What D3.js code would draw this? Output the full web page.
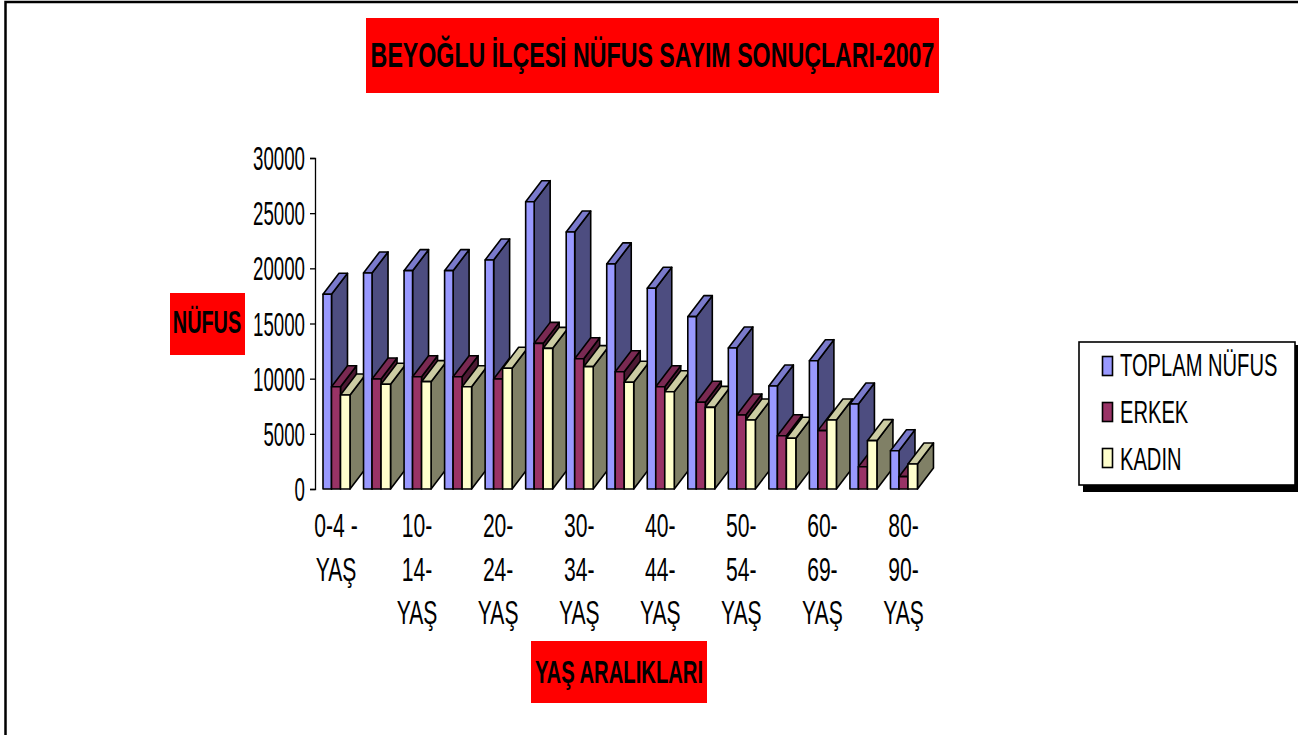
<!DOCTYPE html>
<html><head><meta charset="utf-8">
<script src="https://cdnjs.cloudflare.com/ajax/libs/d3/7.8.5/d3.min.js"></script>
<style>html,body{margin:0;padding:0;background:#fff;overflow:hidden}svg{display:block}text{font-family:"Liberation Sans",Arial,sans-serif;fill:#000}</style>
</head><body><svg id="c" width="1298" height="735"></svg>
<script>
const titleText = "BEYOĞLU İLÇESİ NÜFUS SAYIM SONUÇLARI-2007";
const yAxisTitle = "NÜFUS";
const xAxisTitle = "YAŞ ARALIKLARI";
const categories = ["0-4 - YAŞ","5-9 YAŞ","10- 14- YAŞ","15-19 YAŞ","20- 24- YAŞ","25-29 YAŞ","30- 34- YAŞ","35-39 YAŞ","40- 44- YAŞ","45-49 YAŞ","50- 54- YAŞ","55-59 YAŞ","60- 69- YAŞ","70-79 YAŞ","80- 90- YAŞ"];
const toplam = [17650,19580,19790,19790,20760,26040,23290,20400,18190,15620,12780,9340,11630,7700,3470];
const erkek  = [9270,9970,10180,10180,9970,13200,11810,10630,9270,7860,6710,4830,5290,2020,1120];
const kadin  = [8520,9490,9730,9270,10940,12750,11090,9670,8820,7400,6250,4600,6250,4380,2270];
const yTicks = [0,5000,10000,15000,20000,25000,30000];
const seriesNames = ["TOPLAM NÜFUS","ERKEK","KADIN"];
const seriesValues = [toplam,erkek,kadin];
const frontColors = ["#9999FF","#993366","#FFFFCC"];
const topColors   = ["#7A7ACC","#7A2952","#CCCCA3"];
const sideColors  = ["#4D4D80","#4D1A33","#808066"];

const svg = d3.select("#c");
function sText(g,x,y,str,size,sx,anchor,weight){
  return g.append("text").attr("transform",`translate(${x},${y}) scale(${sx},1)`)
    .attr("text-anchor",anchor||"start").attr("font-size",size).attr("font-weight",weight||"normal").text(str);
}
svg.append("path").attr("d","M5.5,735V2H1298").attr("fill","none").attr("stroke","#000").attr("stroke-width",2.5);

const y = d3.scaleLinear().domain([0,30000]).range([489,158]);
const x = d3.scaleBand().domain(categories).range([323,931]).paddingInner(0).paddingOuter(0);
const seriesX = d3.scaleOrdinal().domain([0,1,2]).range([0,8.5,17.5]);
const barW = [8.5,9,9.5];
const depth = [16,-21];

const chart = svg.append("g").attr("stroke","#000").attr("stroke-width",1.6).attr("stroke-linejoin","round");
categories.forEach((c,i)=>{
  const g = chart.append("g");
  seriesValues.forEach((vals,s)=>{
    const x0 = x(c)+seriesX(s), x1 = x0+barW[s], yT = y(vals[i]), yB = y(0);
    const [dx,dy] = depth;
    g.append("path").attr("fill",sideColors[s])
      .attr("d",`M${x1},${yT}L${x1+dx},${yT+dy}L${x1+dx},${yB+dy}L${x1},${yB}Z`);
    g.append("path").attr("fill",topColors[s])
      .attr("d",`M${x0},${yT}L${x0+dx},${yT+dy}L${x1+dx},${yT+dy}L${x1},${yT}Z`);
    g.append("rect").attr("fill",frontColors[s]).attr("x",x0).attr("y",yT).attr("width",barW[s]).attr("height",yB-yT);
  });
});

const axis = svg.append("g").attr("transform","translate(315,0)")
  .call(d3.axisLeft(y).tickValues(yTicks).tickSize(5).tickFormat(""));
axis.selectAll("path,line").attr("stroke","#000").attr("stroke-width",1.3);
yTicks.forEach(t=>sText(svg,305,y(t)+12,String(t),34,0.55,"end"));

categories.forEach((c,i)=>{
  if(i%2) return;
  const cx = x(c)+13;
  const parts = i===0 ? ["0-4 -","YAŞ"] : c.split(" ");
  parts.forEach((p,j)=>sText(svg,cx,537+j*43.5,p,33.5,0.63,"middle"));
});

function box(x0,y0,w,h,str,size,sx,tx,ty){
  svg.append("rect").attr("x",x0).attr("y",y0).attr("width",w).attr("height",h).attr("fill","#FF0000");
  sText(svg,tx,ty,str,size,sx,"middle","bold");
}
box(366,18,573,75,titleText,35,0.663,652.5,67);
box(170,293,75,62,yAxisTitle,31,0.64,207,333);
box(531,641,176,62,xAxisTitle,31,0.653,619,683);

svg.append("rect").attr("x",1083).attr("y",345).attr("width",215).attr("height",147).attr("fill","#000");
svg.append("rect").attr("x",1079).attr("y",342).attr("width",216).attr("height",143).attr("fill","#fff").attr("stroke","#000").attr("stroke-width",1.6);
seriesNames.forEach((n,i)=>{
  const cy = 366+i*46;
  svg.append("rect").attr("x",1102.5).attr("y",cy-9.5).attr("width",10).attr("height",19)
    .attr("fill",frontColors[i]).attr("stroke","#000").attr("stroke-width",1.6);
  sText(svg,1120,376+i*47,n,31,0.65,"start");
});
</script></body></html>
